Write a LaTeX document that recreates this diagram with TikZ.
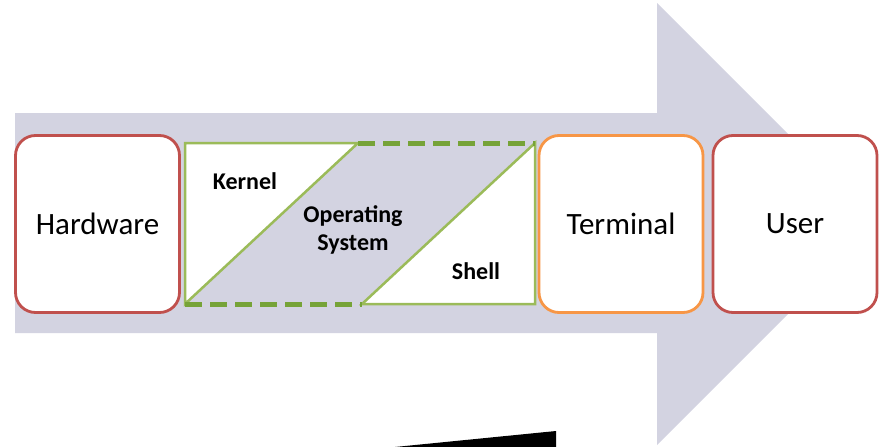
\documentclass[tikz,border=0pt]{standalone}
\usepackage{fontspec}
\setmainfont{Carlito}
\definecolor{flowfill}{RGB}{211,211,225}
\definecolor{hwred}{RGB}{192,80,77}
\definecolor{termorange}{RGB}{247,150,70}
\definecolor{osgreen}{RGB}{155,187,89}
\definecolor{osdark}{RGB}{118,163,56}
\begin{document}
\begin{tikzpicture}[x=1pt,y=-1pt,
    box/.style={draw,line width=2.8pt,rounded corners=20pt,fill=white,
      minimum width=164pt,minimum height=177pt,
      font=\fontsize{31}{34}\selectfont},
    part/.style={font=\bfseries\fontsize{24}{28}\selectfont,align=center},
    osline/.style={draw=osgreen,line width=2.5pt},
    osdash/.style={draw=osdark,line width=5pt,dash pattern=on 17pt off 8pt}]
  \useasboundingbox (0,0) rectangle (881,447);
  \fill[flowfill] (15,113) -- (657,113) -- (657,3) -- (878,224) --
    (657,445) -- (657,333) -- (15,333) -- cycle;
  \fill[black] (395,447) -- (556,431) -- (556,447) -- cycle;
  \node[box,draw=hwred] (hardware) at (97.5,224) {Hardware};
  \node[box,draw=termorange] (terminal) at (621,224) {Terminal};
  \node[box,draw=hwred] (user) at (795,224) {User};
  % operating system
  \fill[white] (185,143) -- (358,143) -- (185,304) -- cycle;
  \fill[white] (535,143) -- (535,304) -- (362,304) -- cycle;
  \draw[osline] (358,143) -- (185,143) -- (185,304) -- cycle;
  \draw[osline] (362,304) -- (535,304) -- (535,143) -- cycle;
  \draw[osdash] (185,304) -- (362,304);
  \draw[osdash] (358,143) -- (535,143);
  \node[part] (kernel) at (245,181) {Kernel};
  \node[part] (os) at (353,230) {Operating\\System};
  \node[part] (shell) at (476,271) {Shell};
\end{tikzpicture}
\end{document}
